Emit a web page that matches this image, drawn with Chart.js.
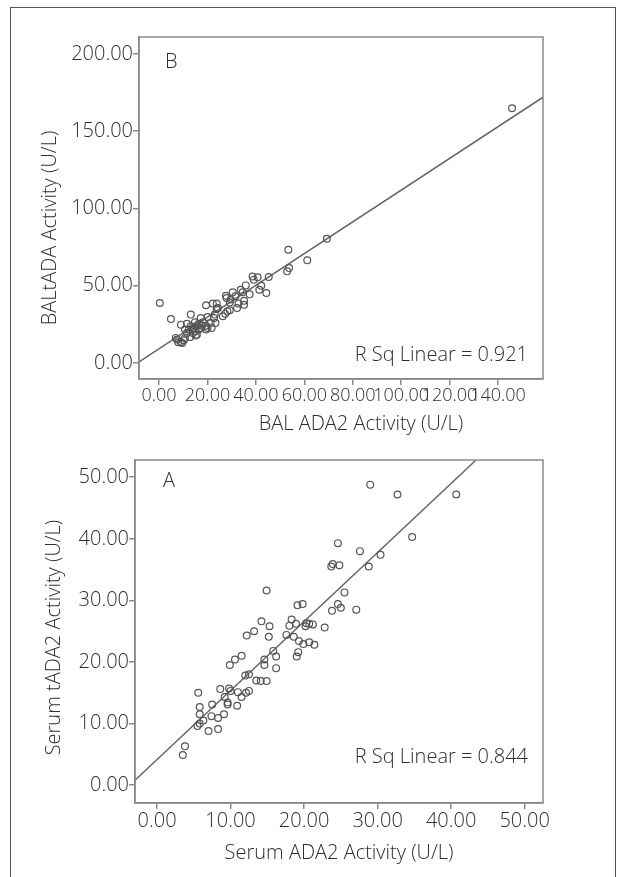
<!DOCTYPE html>
<html lang="en">
<head>
    <meta charset="UTF-8">
    <title>ADA2 vs tADA2 scatter plots</title>
    <script src="https://cdn.jsdelivr.net/npm/chart.js"></script>
    <style>
        body { margin: 0; background: #fff; }
        #frame { position: absolute; left: 10px; top: 7px; width: 604px; height: 900px; border: 1.5px solid #555; border-bottom: none; }
        canvas { position: absolute; left: 0; }
        #chartB { top: 0; }
        #chartA { top: 440px; }
    </style>
</head>
<body>
    <div id="frame"></div>
    <canvas id="chartB" width="620" height="440"></canvas>
    <canvas id="chartA" width="620" height="437"></canvas>

    <script>
        // Panel B: BAL ADA2 (x) vs BAL tADA (y)
        const balX = [145.8, 69.3, 53.4, 61.2, 53.7, 52.9, 45.3, 38.6, 40.7, 35.8, 42.2, 33.7, 34.5, 41.4, 37.4, 44.3,
            0.3, 4.9, 27.6, 27.9, 31.5, 29.6, 35.1, 32.8, 35.1, 19.4, 22.2, 23.8, 24.3, 29.2, 29.2, 32.2,
            27.3, 28.2, 23.8, 23.0, 13.1, 17.2, 20.0, 22.7, 23.3, 9.0, 11.5, 14.8, 16.4, 13.1, 14.4, 15.6,
            18.1, 19.4, 20.0, 21.7, 12.3, 11.5, 14.0, 15.6, 12.8, 10.7, 10.2, 9.0, 7.9, 6.9, 7.4, 9.5,
            15.1, 17.7, 16.4, 15.1, 21.3, 19.4, 13.9, 17.2, 10.7, 26.3, 30.4, 39.1];
        const balY = [164.9, 80.4, 73.3, 66.4, 61.4, 59.3, 55.6, 56.0, 55.4, 50.2, 50.0, 47.4, 45.7, 47.4, 44.4, 45.3,
            38.8, 28.4, 43.5, 42.0, 43.1, 41.0, 40.3, 38.4, 37.7, 37.3, 38.4, 38.4, 35.6, 39.2, 34.1, 35.6,
            31.9, 33.4, 34.9, 31.3, 31.3, 29.1, 29.7, 29.1, 25.9, 24.8, 25.4, 26.3, 25.4, 23.7, 22.6, 24.1,
            26.3, 24.1, 22.6, 22.6, 21.6, 19.4, 19.4, 18.3, 16.8, 16.2, 14.7, 13.4, 13.4, 16.2, 15.1, 12.9,
            17.7, 24.1, 21.6, 20.5, 25.9, 21.6, 22.0, 22.6, 21.6, 30.2, 45.7, 53.9];
        const balFitX = [-8.3, 158.6];
        const balFitY = [0.7, 172.0];
        const balXTicks = [0, 20, 40, 60, 80, 100, 120, 140];
        const balYTicks = [0, 50, 100, 150, 200];

        // Panel A: serum ADA2 (x) vs serum tADA2 (y)
        const serX = [29.0, 32.7, 40.7, 34.7, 24.6, 27.6, 30.4, 23.9, 23.7, 24.8, 28.8, 14.9, 25.5, 24.6, 25.0, 23.8,
            27.1, 19.1, 19.8, 14.2, 15.3, 13.2, 12.2, 15.2, 18.3, 18.0, 18.9, 20.3, 20.7, 21.2, 20.2, 22.8,
            17.6, 18.6, 19.3, 19.9, 20.7, 21.4, 15.8, 19.2, 19.0, 16.2, 14.6, 14.6, 16.2, 11.5, 10.6, 9.9,
            12.0, 12.5, 13.5, 14.1, 14.9, 8.6, 9.8, 10.0, 11.0, 12.1, 12.5, 11.5, 9.2, 9.6, 9.6, 7.5,
            10.9, 5.6, 5.8, 5.8, 7.4, 8.3, 9.1, 6.3, 5.5, 5.8, 7.0, 8.3, 3.8, 3.5];
        const serY = [48.8, 47.2, 47.2, 40.3, 39.3, 38.0, 37.4, 35.9, 35.5, 35.7, 35.5, 31.6, 31.3, 29.4, 28.8, 28.3,
            28.5, 29.2, 29.4, 26.6, 25.8, 25.0, 24.3, 24.1, 26.9, 25.9, 26.2, 26.3, 26.2, 26.1, 25.8, 25.6,
            24.4, 24.1, 23.4, 22.9, 23.2, 22.8, 21.8, 21.6, 20.9, 20.9, 20.4, 19.5, 19.0, 21.0, 20.4, 19.5,
            17.8, 18.0, 17.0, 16.9, 16.9, 15.6, 15.7, 15.3, 15.1, 15.0, 15.3, 14.3, 14.3, 13.4, 13.1, 13.1,
            12.9, 15.0, 12.7, 11.5, 11.2, 10.9, 11.5, 10.5, 9.6, 10.0, 8.8, 9.1, 6.3, 4.9];
        const serFitX = [-3.0, 43.4];
        const serFitY = [0.8, 52.8];
        const serXTicks = [0, 10, 20, 30, 40, 50];
        const serYTicks = [0, 10, 20, 30, 40, 50];

        const FONT = '"Open Sans"';
        const SIZE = 20;
        const INK = '#2e2e2e';
        const AXIS = '#8a8a8a';

        function pairs(xs, ys) {
            return xs.map((x, i) => ({ x: x, y: ys[i] }));
        }

        // box around the plot area, panel letter, R square note and axis titles
        const boxPlugin = {
            id: 'box',
            afterDraw(chart, args, opts) {
                const { ctx, chartArea: a } = chart;
                ctx.save();
                ctx.strokeStyle = AXIS;
                ctx.lineWidth = 1.5;
                ctx.strokeRect(a.left, a.top, a.right - a.left, a.bottom - a.top);
                ctx.fillStyle = INK;
                ctx.font = '300 ' + SIZE + 'px ' + FONT;
                ctx.textBaseline = 'middle';
                ctx.textAlign = 'left';
                ctx.fillText(opts.panel, a.left + opts.panelDx, a.top + opts.panelDy);
                ctx.textAlign = 'right';
                ctx.fillText(opts.note, a.right - 15, a.bottom - opts.noteDy);
                ctx.textAlign = 'center';
                ctx.fillText(opts.xTitle, (a.left + a.right) / 2 + opts.xTitleDx, opts.xTitleY);
                ctx.translate(opts.yTitleX, (a.top + a.bottom) / 2 + opts.yTitleDy);
                ctx.rotate(-Math.PI / 2);
                ctx.fillText(opts.yTitle, 0, 0);
                ctx.restore();
            }
        };

        function makeChart(id, cfg) {
            const ctx = document.getElementById(id).getContext('2d');
            const font = { family: FONT, size: SIZE, weight: '300' };
            return new Chart(ctx, {
                type: 'scatter',
                data: {
                    datasets: [{
                        data: pairs(cfg.xs, cfg.ys),
                        pointRadius: 3.4,
                        pointHoverRadius: 3.4,
                        borderColor: '#555',
                        borderWidth: 1.2,
                        backgroundColor: 'rgba(0,0,0,0)'
                    }, {
                        data: pairs(cfg.fitX, cfg.fitY),
                        showLine: true,
                        pointRadius: 0,
                        borderColor: '#666',
                        borderWidth: 1.5
                    }]
                },
                options: {
                    responsive: false,
                    animation: false,
                    layout: { padding: { top: cfg.padTop, right: cfg.padRight, left: 0, bottom: 0 } },
                    plugins: {
                        legend: { display: false },
                        tooltip: { enabled: false },
                        box: cfg.box
                    },
                    scales: {
                        x: {
                            type: 'linear',
                            min: cfg.xMin,
                            max: cfg.xMax,
                            afterBuildTicks: s => { s.ticks = cfg.xTicks.map(v => ({ value: v })); },
                            afterFit: s => { s.height = cfg.xHeight; },
                            grid: { display: true, drawOnChartArea: false, drawTicks: true, tickLength: 6, color: AXIS, lineWidth: 1.5 },
                            border: { display: true, color: AXIS, width: 1.5 },
                            ticks: {
                                autoSkip: false, maxRotation: 0, padding: 0,
                                color: INK, font: { family: FONT, size: cfg.xTickSize, weight: '300' },
                                callback: v => v.toFixed(2)
                            }
                        },
                        y: {
                            type: 'linear',
                            min: cfg.yMin,
                            max: cfg.yMax,
                            afterBuildTicks: s => { s.ticks = cfg.yTicks.map(v => ({ value: v })); },
                            afterFit: s => { s.width = cfg.yWidth; },
                            grid: { display: true, drawOnChartArea: false, drawTicks: true, tickLength: 6, color: AXIS, lineWidth: 1.5 },
                            border: { display: true, color: AXIS, width: 1.5 },
                            ticks: {
                                padding: 0,
                                color: INK, font: font,
                                callback: v => v.toFixed(2)
                            }
                        }
                    }
                },
                plugins: [boxPlugin]
            });
        }

        makeChart('chartB', {
            xs: balX, ys: balY, fitX: balFitX, fitY: balFitY,
            xTicks: balXTicks, yTicks: balYTicks,
            xMin: -8.3, xMax: 158.6, yMin: -10.4, yMax: 211,
            padTop: 37, padRight: 77, yWidth: 139, xHeight: 61, xTickSize: 18,
            box: {
                panel: 'B', panelDx: 26, panelDy: 25, note: 'R Sq Linear = 0.921', noteDy: 24,
                xTitle: 'BAL ADA2 Activity (U/L)', xTitleDx: 20, xTitleY: 424,
                yTitle: 'BALtADA Activity (U/L)', yTitleX: 50, yTitleDy: 20
            }
        });

        makeChart('chartA', {
            xs: serX, ys: serY, fitX: serFitX, fitY: serFitY,
            xTicks: serXTicks, yTicks: serYTicks,
            xMin: -3.0, xMax: 52.5, yMin: -2.9, yMax: 52.8,
            padTop: 20, padRight: 77, yWidth: 135, xHeight: 74, xTickSize: 20,
            box: {
                panel: 'A', panelDx: 28, panelDy: 21, note: 'R Sq Linear = 0.844', noteDy: 46,
                xTitle: 'Serum ADA2 Activity (U/L)', xTitleDx: 0, xTitleY: 413,
                yTitle: 'Serum tADA2 Activity (U/L)', yTitleX: 54, yTitleDy: 6
            }
        });
    </script>
</body>
</html>
